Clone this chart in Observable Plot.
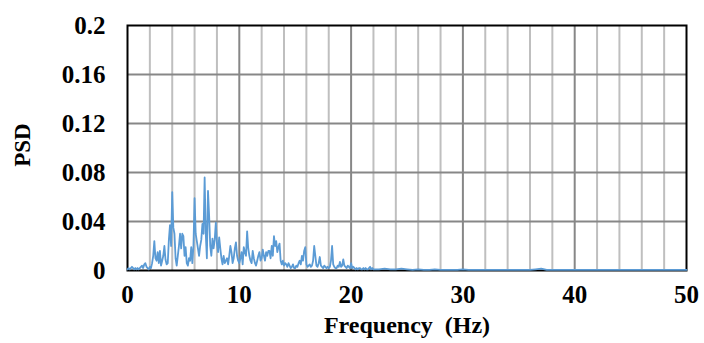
<!DOCTYPE html>
<html><head><meta charset="utf-8">
<script src="https://cdn.jsdelivr.net/npm/d3@7"></script>
<script src="https://cdn.jsdelivr.net/npm/@observablehq/plot@0.6"></script>
<style>body{margin:0;background:#fff}</style>
</head><body><div id="chart"></div>
<script>
const xTicks = [0, 10, 20, 30, 40, 50];
const yTicks = [0, 0.04, 0.08, 0.12, 0.16, 0.2];
const yTickLabels = ["0", "0.04", "0.08", "0.12", "0.16", "0.2"];
const minorGridX = [2, 4, 6, 8, 12, 14, 16, 18, 22, 24, 26, 28, 32, 34, 36, 38, 42, 44, 46, 48];
const majorGridX = [10, 20, 30, 40];
const gridY = [0.04, 0.08, 0.12, 0.16];
const xTitle = "Frequency\u00a0 (Hz)";
const yTitle = "PSD";

// PSD samples, 0.0 .. 22.0 Hz every 0.1 Hz
const lowStep = 0.1;
const psdLow = [
  0.001,0.002,0.001,0.002,0.003,0.002,0.001,0.002,0.001,0.002,
  0.001,0.002,0.003,0.004,0.002,0.005,0.006,0.003,0.002,0.001,
  0.003,0.002,0.006,0.012,0.024,0.010,0.008,0.015,0.006,0.016,
  0.004,0.008,0.012,0.020,0.009,0.005,0.006,0.025,0.037,0.020,
  0.064,0.035,0.030,0.010,0.004,0.012,0.020,0.030,0.018,0.030,
  0.028,0.012,0.019,0.006,0.004,0.010,0.008,0.019,0.006,0.020,
  0.059,0.030,0.024,0.018,0.012,0.020,0.025,0.038,0.030,0.076,
  0.030,0.010,0.065,0.045,0.020,0.012,0.026,0.018,0.025,0.039,
  0.022,0.015,0.027,0.018,0.010,0.005,0.012,0.006,0.008,0.010,
  0.005,0.012,0.020,0.015,0.006,0.010,0.018,0.023,0.012,0.008,
  0.006,0.010,0.015,0.005,0.019,0.015,0.012,0.032,0.018,0.012,
  0.008,0.006,0.016,0.010,0.006,0.004,0.008,0.012,0.015,0.008,
  0.010,0.017,0.012,0.008,0.015,0.012,0.016,0.016,0.010,0.020,
  0.012,0.028,0.020,0.024,0.015,0.019,0.022,0.008,0.005,0.008,
  0.004,0.006,0.005,0.003,0.006,0.004,0.002,0.003,0.005,0.002,
  0.002,0.004,0.003,0.006,0.008,0.005,0.012,0.008,0.016,0.019,
  0.005,0.003,0.004,0.005,0.003,0.004,0.008,0.020,0.012,0.004,
  0.003,0.006,0.011,0.004,0.003,0.002,0.004,0.003,0.002,0.003,
  0.002,0.003,0.008,0.020,0.005,0.003,0.002,0.002,0.004,0.003,
  0.007,0.003,0.004,0.009,0.004,0.003,0.002,0.004,0.003,0.002,
  0.006,0.002,0.003,0.002,0.001,0.002,0.001,0.002,0.002,0.001,
  0.001,0.002,0.001,0.002,0.001,0.001,0.002,0.003,0.001,0.002,
  0.001
];
// PSD samples, 22.5 .. 50 Hz every 0.5 Hz
const tailStart = 22.5, tailStep = 0.5;
const psdTail = [
  0.001,0.0015,0.001,0.001,0.0015,
  0.001,0.0005,0.001,0.0005,0.0005,0.001,0.0005,0.0005,0.0005,0.0005,
  0.001,0.0005,0.0005,0.0005,0.0005,0.0005,0.0005,0.0005,0.0005,0.0005,
  0.0005,0.0005,0.0005,0.001,0.0015,0.0005,0.0005,0.0005,0.0005,0.0005,
  0.0005,0.0005,0.0005,0.0005,0.0005,0.0005,0.0005,0.0005,0.0005,0.0005,
  0.0005,0.0005,0.0005,0.0005,0.0005,0.0005,0.0005,0.0005,0.0005,0.0005,0.0005
];

const data = [
  ...psdLow.map((v, i) => ({f: +(i * lowStep).toFixed(2), v})),
  ...psdTail.map((v, i) => ({f: tailStart + i * tailStep, v}))
];

const chart = Plot.plot({
  width: 704, height: 343,
  marginLeft: 127, marginRight: 18, marginTop: 25, marginBottom: 73,
  x: {domain: [0, 50]},
  y: {domain: [0, 0.2]},
  style: {fontFamily: "'Liberation Serif', 'Times New Roman', serif", fontWeight: "bold", fontSize: "22px", background: "#fff", color: "#000"},
  marks: [
    Plot.ruleX(minorGridX, {stroke: "#bfbfbf", strokeWidth: 2}),
    Plot.ruleX(majorGridX, {stroke: "#878787", strokeWidth: 2}),
    Plot.ruleY(gridY, {stroke: "#878787", strokeWidth: 2}),
    Plot.frame({stroke: "#000", strokeWidth: 2}),
    Plot.line(data, {x: "f", y: "v", stroke: "#5b9bd5", strokeWidth: 1.8}),
    Plot.axisX({ticks: xTicks, tickSize: 0, tickPadding: 15, label: null, fontSize: 25}),
    Plot.axisY({ticks: yTicks, tickFormat: (d, i) => yTickLabels[i], tickSize: 0, tickPadding: 22, label: null, fontSize: 25}),
    Plot.text([xTitle], {frameAnchor: "bottom", dy: 62, fontSize: 24}),
    Plot.text([yTitle], {frameAnchor: "left", textAnchor: "middle", dx: -105, dy: -3, rotate: -90, fontSize: 23})
  ]
});
document.getElementById("chart").appendChild(chart);
</script>
</body></html>
